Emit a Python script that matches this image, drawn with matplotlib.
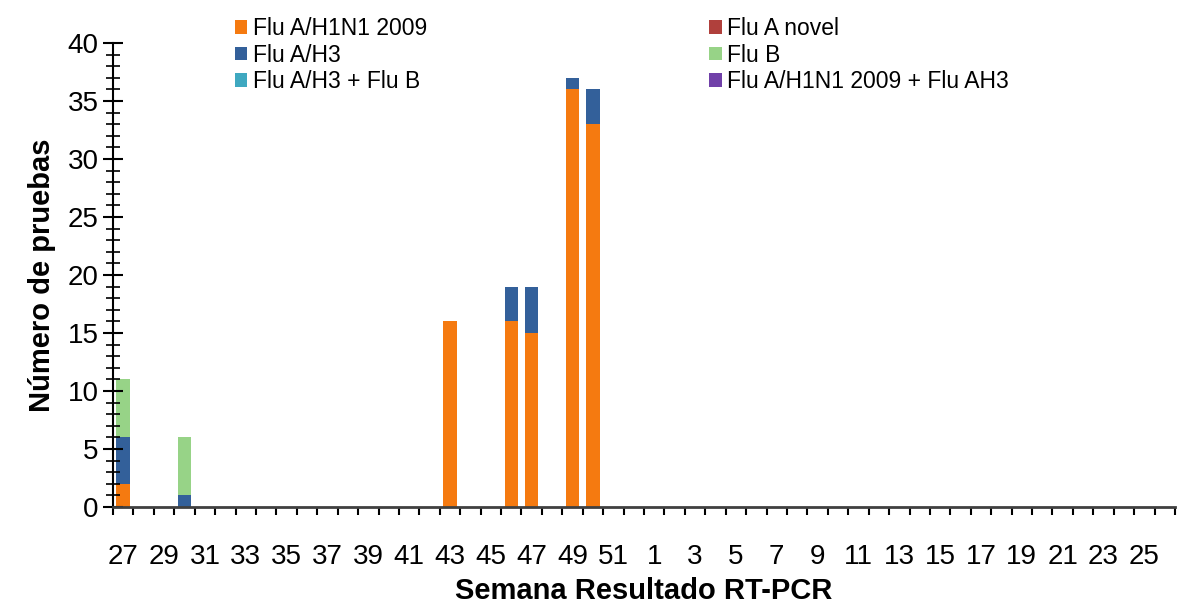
import numpy as np
import matplotlib.pyplot as plt
from matplotlib.ticker import MultipleLocator

plt.rcParams['font.family'] = ['Liberation Sans', 'DejaVu Sans']

weeks = list(range(27, 53)) + list(range(1, 27))
h1n1 = {27: 2, 43: 16, 46: 16, 47: 15, 49: 36, 50: 33}
ah3 = {27: 4, 30: 1, 46: 3, 47: 4, 49: 1, 50: 3}
flub = {27: 5, 30: 5}
series_names = ['Flu A/H1N1 2009', 'Flu A/H3', 'Flu A/H3 + Flu B',
                'Flu A novel', 'Flu B', 'Flu A/H1N1 2009 + Flu AH3']
series_colors = ['#f57a10', '#33609a', '#3fa8c0', '#b0403c', '#97d387', '#7040a8']

v_h1 = np.array([h1n1.get(w, 0) for w in weeks])
v_h3 = np.array([ah3.get(w, 0) for w in weeks])
v_b = np.array([flub.get(w, 0) for w in weeks])
zero = np.zeros(len(weeks))

fig = plt.figure(figsize=(11.8, 6.05), dpi=100)
ax = fig.add_axes([113/1180, 1-507/605, (1175-113)/1180, (507-43)/605])
x = np.arange(len(weeks))
w = 0.66
ax.bar(x, v_h1, w, color=series_colors[0], label=series_names[0])
ax.bar(x, v_h3, w, bottom=v_h1, color=series_colors[1], label=series_names[1])
ax.bar(x, zero, w, color=series_colors[2], label=series_names[2])
ax.bar(x, zero, w, color=series_colors[3], label=series_names[3])
ax.bar(x, v_b, w, bottom=v_h1 + v_h3, color=series_colors[4], label=series_names[4])
ax.bar(x, zero, w, color=series_colors[5], label=series_names[5])

ax.set_xlim(-0.5, len(weeks) - 0.5)
ax.set_ylim(0, 40)
ax.set_xticks(x[::2])
ax.set_xticklabels([str(wk) for wk in weeks[::2]], fontsize=20)
ax.set_xticks(np.arange(-0.5, len(weeks)), minor=True)
ax.tick_params(axis='x', which='major', length=0, pad=27)
ax.tick_params(axis='x', which='minor', length=6, width=1.5, direction='out')
ax.yaxis.set_major_locator(MultipleLocator(5))
ax.yaxis.set_minor_locator(MultipleLocator(1))
ax.tick_params(axis='y', which='major', length=14, width=1.5, direction='inout', labelsize=20)
ax.tick_params(axis='y', which='minor', length=10, width=1.2, direction='inout')
for s in ['top', 'right']:
    ax.spines[s].set_visible(False)
ax.spines['left'].set_linewidth(1.5)
ax.spines['bottom'].set_linewidth(2)
ax.spines['bottom'].set_color('#404040')

ax.set_xlabel('Semana Resultado RT-PCR', fontsize=21, fontweight='bold', labelpad=5)
ax.set_ylabel('Número de pruebas', fontsize=21, fontweight='bold', labelpad=8)

ax.legend(ncol=2, loc='upper left', bbox_to_anchor=(0.095, 1.1), frameon=False,
          fontsize=16.5, handlelength=0.55, handleheight=0.55, handletextpad=0.25,
          labelspacing=0.15, columnspacing=12.3)

fig.savefig('out.png', dpi=100)
